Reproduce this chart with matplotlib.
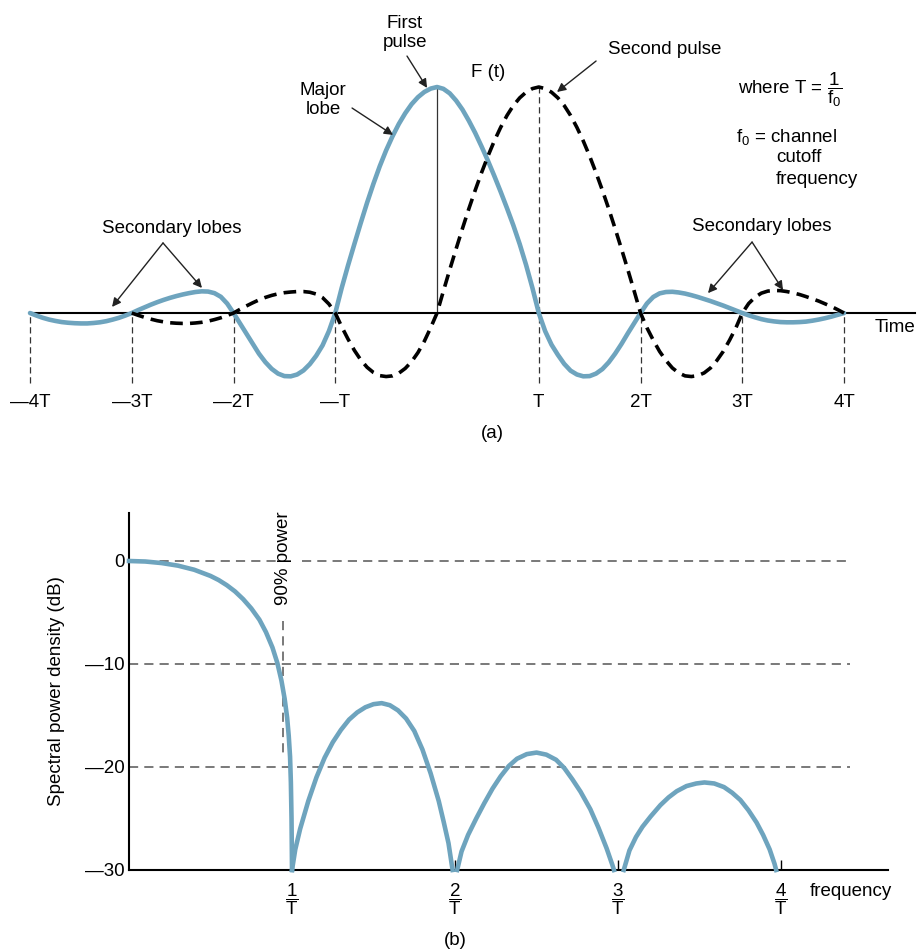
import numpy as np
import matplotlib
matplotlib.use("Agg")
import matplotlib.pyplot as plt

plt.rcParams['font.family'] = ['Liberation Sans', 'DejaVu Sans']
plt.rcParams['mathtext.fontset'] = 'custom'
plt.rcParams['mathtext.rm'] = 'Liberation Sans'
plt.rcParams['mathtext.it'] = 'Liberation Sans'
plt.rcParams['mathtext.default'] = 'regular'

BLUE = '#6ea4be'
FS = 13.5

# (a) pulses, time in units of T, read every T/16 (one row per T)
t_first = np.arange(-64, 65) / 16
first_pulse = [
    0, -0.011, -0.021, -0.029, -0.035, -0.040, -0.043, -0.045, -0.046, -0.046, -0.044, -0.041, -0.036, -0.029, -0.021, -0.011,
    0, 0.013, 0.025, 0.037, 0.048, 0.058, 0.067, 0.075, 0.082, 0.088, 0.093, 0.096, 0.095, 0.088, 0.072, 0.042,
    0, -0.045, -0.09, -0.135, -0.18, -0.217, -0.247, -0.268, -0.279, -0.280, -0.272, -0.254, -0.226, -0.189, -0.143, -0.08,
    0, 0.11, 0.21, 0.305, 0.398, 0.488, 0.572, 0.65, 0.72, 0.782, 0.837, 0.884, 0.924, 0.955, 0.978, 0.993,
    1.0, 0.992, 0.972, 0.94, 0.90, 0.851, 0.797, 0.737, 0.674, 0.607, 0.537, 0.464, 0.388, 0.305, 0.213, 0.111,
    0, -0.08, -0.14, -0.185, -0.225, -0.255, -0.272, -0.280, -0.279, -0.268, -0.248, -0.218, -0.18, -0.137, -0.09, -0.045,
    0, 0.042, 0.071, 0.087, 0.093, 0.094, 0.091, 0.086, 0.079, 0.071, 0.062, 0.053, 0.043, 0.033, 0.022, 0.011,
    0, -0.010, -0.019, -0.027, -0.033, -0.037, -0.040, -0.041, -0.041, -0.040, -0.038, -0.034, -0.029, -0.023, -0.016, -0.008,
    0]

t_second = np.arange(-48, 65) / 16
second_pulse = [
    0, -0.010, -0.019, -0.027, -0.034, -0.039, -0.043, -0.045, -0.046, -0.046, -0.044, -0.041, -0.036, -0.029, -0.021, -0.011,
    0, 0.016, 0.031, 0.045, 0.058, 0.069, 0.078, 0.085, 0.090, 0.093, 0.095, 0.095, 0.092, 0.084, 0.068, 0.040,
    0, -0.06, -0.115, -0.165, -0.207, -0.24, -0.263, -0.277, -0.281, -0.278, -0.266, -0.245, -0.215, -0.175, -0.125, -0.065,
    0, 0.097, 0.192, 0.284, 0.374, 0.461, 0.543, 0.621, 0.694, 0.761, 0.821, 0.874, 0.918, 0.952, 0.977, 0.993,
    1.0, 0.993, 0.977, 0.952, 0.918, 0.874, 0.821, 0.761, 0.694, 0.621, 0.543, 0.461, 0.374, 0.284, 0.192, 0.097,
    0, -0.065, -0.12, -0.17, -0.21, -0.243, -0.265, -0.278, -0.281, -0.277, -0.265, -0.243, -0.21, -0.17, -0.12, -0.065,
    0, 0.042, 0.07, 0.088, 0.097, 0.100, 0.099, 0.095, 0.089, 0.082, 0.073, 0.063, 0.053, 0.041, 0.029, 0.015,
    0]

time_ticks = [-4, -3, -2, -1, 1, 2, 3, 4]
time_labels = ['—4T', '—3T', '—2T', '—T', 'T', '2T', '3T', '4T']

# (b) spectral power density lobes (frequency in 1/T, level in dB)
lobe_f = [
    [0, 0.1, 0.2, 0.3, 0.4, 0.5, 0.55, 0.6, 0.65, 0.7, 0.75, 0.8, 0.84, 0.88, 0.91, 0.935,
     0.955, 0.97, 0.98, 0.988, 0.993, 0.997, 1.0],
    [1.0, 1.02, 1.05, 1.1, 1.15, 1.2, 1.25, 1.3, 1.35, 1.4, 1.45, 1.5, 1.55, 1.6, 1.65,
     1.7, 1.75, 1.8, 1.85, 1.9, 1.93, 1.96, 1.985],
    [2.013, 2.04, 2.08, 2.13, 2.18, 2.23, 2.28, 2.33, 2.38, 2.44, 2.5, 2.56, 2.62, 2.67,
     2.72, 2.77, 2.83, 2.88, 2.93, 2.965, 2.975],
    [3.035, 3.07, 3.11, 3.15, 3.2, 3.26, 3.31, 3.36, 3.42, 3.48, 3.53, 3.59, 3.65, 3.7,
     3.75, 3.8, 3.85, 3.89, 3.93, 3.96, 3.97],
]
lobe_db = [
    [0, -0.05, -0.2, -0.45, -0.85, -1.45, -1.85, -2.35, -2.95, -3.7, -4.6, -5.7, -6.9, -8.4, -9.9, -11.6,
     -13.4, -15.2, -17.0, -19.0, -21.5, -25, -30],
    [-30, -28.0, -26.0, -23.3, -21.0, -19.1, -17.6, -16.4, -15.4, -14.7, -14.2, -13.9, -13.8, -14.0, -14.5,
     -15.3, -16.5, -18.3, -20.6, -23.3, -25.3, -27.4, -30],
    [-30, -28.2, -26.6, -25.0, -23.5, -22.1, -20.9, -19.9, -19.2, -18.75, -18.6, -18.8, -19.3, -20.1,
     -21.2, -22.4, -24.1, -25.9, -27.9, -29.5, -30],
    [-30, -28.1, -26.8, -25.8, -24.8, -23.7, -22.95, -22.35, -21.85, -21.6, -21.5, -21.6, -21.95, -22.5,
     -23.2, -24.2, -25.4, -26.6, -28.0, -29.4, -30],
]
db_levels = [0, -10, -20, -30]
db_labels = ['0', '—10', '—20', '—30']
freq_ticks = [1, 2, 3, 4]
freq_labels = [r'$\dfrac{1}{T}$', r'$\dfrac{2}{T}$', r'$\dfrac{3}{T}$', r'$\dfrac{4}{T}$']
power90_f = 0.945

W, H = 917, 949
fig = plt.figure(figsize=(W / 100, H / 100), dpi=100)

# ---------- (a) ----------
ax = fig.add_axes([0, 1 - 450 / H, 1, 450 / H])
ax.set_xlim(-4.295, 4.717)
ax.set_ylim(-0.606, 1.385)
ax.axis('off')

ax.plot([-4, 4.70], [0, 0], color='black', lw=1.5, zorder=2)
ax.plot(t_first, first_pulse, color=BLUE, lw=3.3, solid_capstyle='round',
        solid_joinstyle='round', zorder=3)
ax.plot(t_second, second_pulse, color='black', lw=2.6, ls=(0, (3.5, 2)), zorder=4)

ax.vlines(time_ticks, -0.31, 0, colors='#333333', lw=0.9, linestyles=(0, (5, 3)), zorder=1)
ax.vlines(1, 0, max(second_pulse), colors='#333333', lw=0.9, linestyles=(0, (5, 3)), zorder=1)
ax.vlines(0, 0, max(first_pulse), colors='#333333', lw=0.9, zorder=1)
for t, lab in zip(time_ticks, time_labels):
    ax.text(t, -0.394, lab, ha='center', va='center', fontsize=FS)

arrow = dict(arrowstyle='-|>', color='#222222', lw=1.0, mutation_scale=13, shrinkA=0, shrinkB=0)
ax.text(-0.315, 1.240, 'First\npulse', ha='center', va='center', fontsize=FS, linespacing=1.15)
ax.annotate('', xy=(-0.098, 0.996), xytext=(-0.295, 1.137), arrowprops=arrow)
ax.text(-1.120, 0.942, 'Major\nlobe', ha='center', va='center', fontsize=FS, linespacing=1.15)
ax.annotate('', xy=(-0.432, 0.788), xytext=(-0.835, 0.907), arrowprops=arrow)
ax.text(-2.604, 0.372, 'Secondary lobes', ha='center', va='center', fontsize=FS)
ax.annotate('', xy=(-3.194, 0.027), xytext=(-2.693, 0.310), arrowprops=arrow)
ax.annotate('', xy=(-2.310, 0.111), xytext=(-2.693, 0.310), arrowprops=arrow)
ax.text(0.50, 1.066, 'F (t)', ha='center', va='center', fontsize=FS)
ax.text(2.241, 1.168, 'Second pulse', ha='center', va='center', fontsize=FS)
ax.annotate('', xy=(1.179, 0.978), xytext=(1.563, 1.115), arrowprops=arrow)
ax.text(2.958, 0.987, r'where T = $\dfrac{1}{f_0}$', ha='left', va='center', fontsize=FS)
ax.text(2.939, 0.779, r'$f_0$ = channel', ha='left', va='center', fontsize=FS)
ax.text(3.332, 0.690, 'cutoff', ha='left', va='center', fontsize=FS)
ax.text(3.332, 0.593, 'frequency', ha='left', va='center', fontsize=FS)
ax.text(3.194, 0.381, 'Secondary lobes', ha='center', va='center', fontsize=FS)
ax.annotate('', xy=(2.663, 0.088), xytext=(3.096, 0.314), arrowprops=arrow)
ax.annotate('', xy=(3.400, 0.102), xytext=(3.096, 0.314), arrowprops=arrow)
ax.text(4.305, -0.066, 'Time', ha='left', va='center', fontsize=FS)
ax.text(0.54, -0.531, '(a)', ha='center', va='center', fontsize=FS)

# ---------- (b) ----------
bx = fig.add_axes([129 / W, 1 - 870 / H, (888 - 129) / W, (870 - 513) / H])
bx.set_xlim(0, 4.656)
bx.set_ylim(-30, 4.66)
for s in ['top', 'right']:
    bx.spines[s].set_visible(False)
for s in ['left', 'bottom']:
    bx.spines[s].set_linewidth(1.5)

grid = dict(color='#555555', lw=1.1, ls=(0, (6, 4)), zorder=1)
bx.plot([0, 0.91], [0, 0], **grid)
bx.plot([1.06, 4.42], [0, 0], **grid)
for lvl in db_levels[1:3]:
    bx.plot([0, 4.42], [lvl, lvl], **grid)
bx.plot([power90_f, power90_f], [-5.8, -19], **grid)
bx.text(power90_f, 0.3, '90% power', rotation=90, ha='center', va='center', fontsize=FS)

for f, db in zip(lobe_f, lobe_db):
    bx.plot(f, db, color=BLUE, lw=3.3, solid_joinstyle='round', zorder=3, clip_on=False)

bx.set_yticks(db_levels, db_labels, fontsize=FS)
bx.set_xticks(freq_ticks, freq_labels, fontsize=FS)
bx.tick_params(axis='y', length=0, pad=3)
bx.tick_params(axis='x', direction='in', length=7, width=1, pad=8)
bx.set_ylabel('Spectral power density (dB)', fontsize=FS)
bx.yaxis.set_label_coords(-0.084, 0.5)
bx.text(4.178, -32.1, 'frequency', ha='left', va='center', fontsize=FS)
bx.text(2.0, -36.8, '(b)', ha='center', va='center', fontsize=FS)

fig.savefig('out.png', dpi=100)
